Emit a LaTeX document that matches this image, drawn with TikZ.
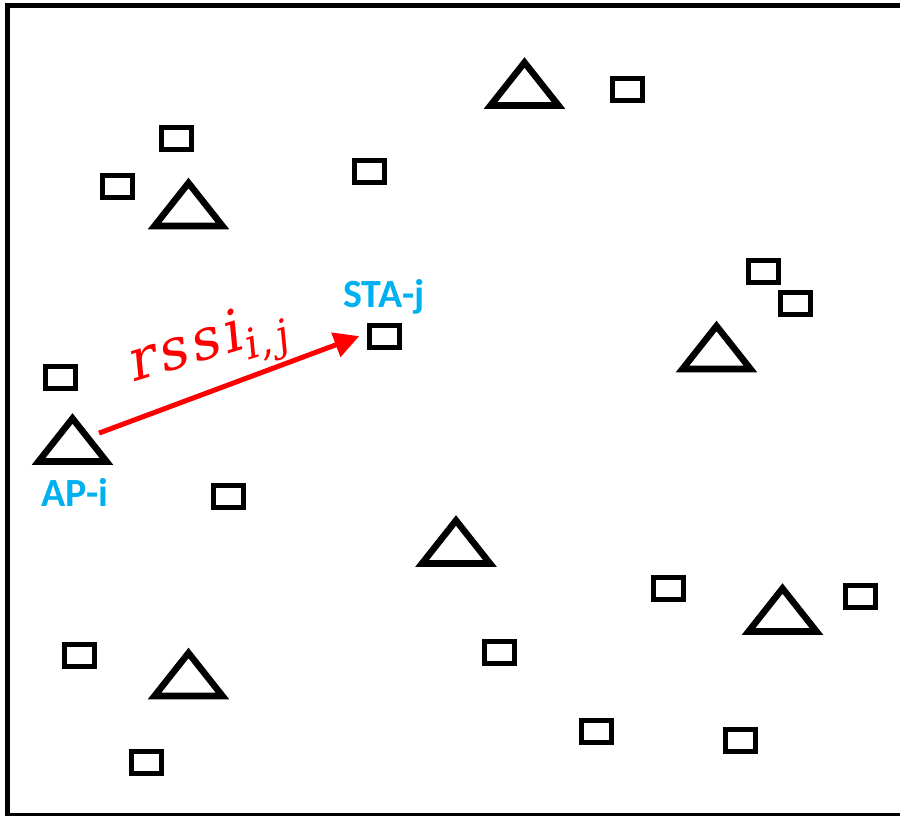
\documentclass[tikz,border=0pt]{standalone}
\usepackage{fontspec}
\newfontfamily\lblfont{Carlito}
\newfontfamily\symfont{DejaVu Serif}[FakeSlant=0.2, LetterSpace=7]
\usetikzlibrary{arrows.meta}
\definecolor{apblue}{HTML}{00B0F0}
\definecolor{linkred}{HTML}{FF0000}
\begin{document}
\begin{tikzpicture}[x=0.75pt,y=-0.75pt,
  sta/.style={draw=black, line width=3.75pt, rectangle, minimum width=22.5pt,
    minimum height=16.5pt, inner sep=0pt},
  ap/.pic={\draw[line width=4.9pt, line join=miter, miter limit=10]
      (-34,0) -- (0,-43) -- (34,0) -- cycle;
    \coordinate (-c) at (0,-18.5);},
  tag/.style={text=apblue, font=\lblfont\bfseries\fontsize{30}{34}\selectfont,
    inner sep=0pt, anchor=base},
  link/.style={draw=linkred, line width=3.75pt,
    -{Triangle[length=18.75pt,width=18.75pt]}},
]
\useasboundingbox (0,0) rectangle (900,816);

% frame (right side runs off the page)
\begin{scope}
  \clip (0,0) rectangle (900,816);
  \draw[line width=4.1pt] (7.5,5.5) rectangle (930,816);
\end{scope}

% access points
\pic (ap1) at (524.5,105.5) {ap};
\pic (ap2) at (188.5,226)   {ap};
\pic (ap3) at (716.5,369)   {ap};
\pic (api) at (72.5,461.5)  {ap};
\pic (ap5) at (456,563.5)   {ap};
\pic (ap6) at (782.5,631.5) {ap};
\pic (ap7) at (188.5,696)   {ap};

% stations
\node[sta] (s1)  at (176,139)     {};
\node[sta] (s2)  at (117,186.5)   {};
\node[sta] (s3)  at (369.5,172)   {};
\node[sta] (s4)  at (627.5,89.5)  {};
\node[sta] (s5)  at (763,271.5)   {};
\node[sta] (s6)  at (795,303.5)   {};
\node[sta] (sta) at (384,336.5)   {};
\node[sta] (s8)  at (60.5,377.5)  {};
\node[sta] (s9)  at (228,497)     {};
\node[sta] (s10) at (668,588.5)   {};
\node[sta] (s11) at (860.5,596)   {};
\node[sta] (s12) at (79,655)      {};
\node[sta] (s13) at (499.5,652.5) {};
\node[sta] (s14) at (596.5,731.5) {};
\node[sta] (s15) at (740,740.5)   {};
\node[sta] (s16) at (146.5,762.5) {};

% labels
\node[tag] (apl)  at (75,507)  {AP-i};
\node[tag] (stal) at (384,308) {STA-j};

% link from AP-i to STA-j
\draw[link, shorten <=21.2pt, shorten >=5.8pt] (api-c) -- (sta.170);
\node[text=linkred, rotate=17, anchor=base west, inner sep=0pt,
  font=\symfont\fontsize{43}{50}\selectfont]
  (rssi) at (132,383)
  {rssi\raisebox{-0.22em}{\fontsize{31}{34}\selectfont i,j}};
\end{tikzpicture}
\end{document}
